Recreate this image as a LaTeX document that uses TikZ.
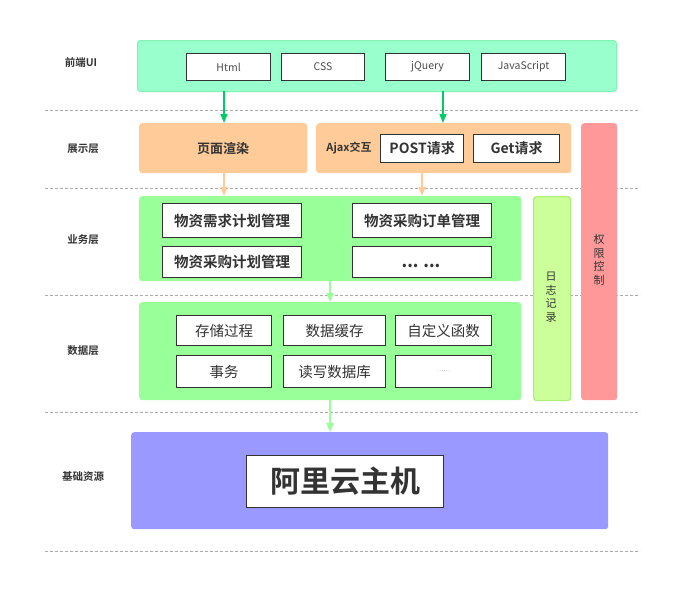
\documentclass[tikz,border=0pt]{standalone}
\usepackage{fontspec}
\setmainfont{Noto Sans CJK SC}
\newfontfamily\cjkb{Noto Sans CJK SC Bold}
\usetikzlibrary{arrows.meta}
\definecolor{tx}{HTML}{333333}
\definecolor{fgreen}{HTML}{99FFCC}
\definecolor{fgreenb}{HTML}{80F2B3}
\definecolor{orng}{HTML}{FFCC99}
\definecolor{bgreen}{HTML}{99FF99}
\definecolor{purp}{HTML}{9999FF}
\definecolor{pink}{HTML}{FF9999}
\definecolor{logc}{HTML}{CCFF99}
\definecolor{logb}{HTML}{AAEE77}
\definecolor{arrg}{HTML}{00CC66}
\definecolor{dash}{HTML}{AAAAAA}
\tikzset{
  x=1pt,y=-1pt,
  layer/.style={rounded corners=3pt,draw=none,inner sep=0pt,anchor=north west},
  wbox/.style={draw=tx,line width=1.2pt,fill=white,anchor=north west,inner sep=0pt,text=tx},
  lbl/.style={text=tx,font=\cjkb\fontsize{10.5}{11}\selectfont},
  sep/.style={draw=dash,dashed,line width=0.8pt,dash pattern=on 3pt off 2pt},
  arr/.style={line width=1.6pt,-{Triangle[width=7pt,length=9pt]}},
}
\newcommand{\rbox}[6]{\node[layer,fill=#5,minimum width=#3pt-#1pt,minimum height=#4pt-#2pt] (#6) at (#1,#2) {};}
\begin{document}
\begin{tikzpicture}
\useasboundingbox (0,0) rectangle (694,614);
% separators
\foreach \yy/\nm in {110/s1,188/s2,295/s3,412/s4,551/s5}{
  \coordinate (\nm a) at (45,\yy); \coordinate (\nm b) at (640,\yy);
  \draw[sep] (\nm a) -- (\nm b);
}
% left labels
\node[lbl] (l1) at (81,62) {前端UI};
\node[lbl] (l2) at (83,149) {展示层};
\node[lbl] (l3) at (83,240) {业务层};
\node[lbl] (l4) at (83,351) {数据层};
\node[lbl] (l5) at (83,477) {基础资源};
% front UI
\node[layer,fill=fgreen,draw=fgreenb,line width=1pt,minimum width=479pt,minimum height=51pt] (front) at (137,40) {};
\foreach \xa/\xb/\t/\n in {186/270/Html/html,281/364/CSS/css,385/469/jQuery/jq,481/565/JavaScript/js}{
  \node[wbox,minimum width=\xb pt-\xa pt,minimum height=27pt,font=\fontsize{10.5}{11}\selectfont,text=black!70] (\n) at (\xa,53) {\t};
}
% presentation layer
\rbox{139}{123}{307}{173}{orng}{render}
\node[text=tx,font=\cjkb\fontsize{13}{14}\selectfont] (rendert) at (render.center) {页面渲染};
\rbox{316}{123}{571}{173}{orng}{ajax}
\node[text=tx,font=\cjkb\fontsize{11}{12}\selectfont] (ajaxt) at (349,148) {Ajax交互};
\node[wbox,minimum width=83pt,minimum height=28pt,font=\cjkb\fontsize{14}{15}\selectfont] (post) at (380,134) {POST请求};
\node[wbox,minimum width=86pt,minimum height=28pt,font=\cjkb\fontsize{14}{15}\selectfont] (get) at (473,134) {Get请求};
% permission & log
\rbox{581}{123}{617}{400}{pink}{perm}
\node[text=tx,font=\fontsize{11}{13.5}\selectfont,align=center] (permt) at (599,260) {权\\限\\控\\制};
\node[layer,fill=logc,draw=logb,line width=1.2pt,minimum width=37pt,minimum height=204pt] (log) at (533,196) {};
\node[text=tx,font=\fontsize{11}{13.5}\selectfont,align=center] (logt) at (551,297) {日\\志\\记\\录};
% business layer
\rbox{139}{196}{521}{281}{bgreen}{biz}
\tikzset{bizb/.style={wbox,minimum width=139pt,font=\cjkb\fontsize{14.5}{15}\selectfont}}
\node[bizb,minimum height=34pt] (b1) at (162,203) {物资需求计划管理};
\node[bizb,minimum height=31pt] (b2) at (162,246) {物资采购计划管理};
\node[bizb,minimum height=34pt] (b3) at (352,203) {物资采购订单管理};
\node[bizb,minimum height=31pt] (b4) at (352,246) {};
\node[text=tx,font=\bfseries\fontsize{16}{16}\selectfont] (b4t) at (421,266) {... ...};
% data layer
\rbox{139}{302}{521}{400}{bgreen}{data}
\tikzset{datb/.style={wbox,font=\fontsize{14.5}{15}\selectfont}}
\node[datb,minimum width=95pt,minimum height=30pt] (d1) at (176,315) {存储过程};
\node[datb,minimum width=102pt,minimum height=30pt] (d2) at (283,315) {数据缓存};
\node[datb,minimum width=96pt,minimum height=30pt] (d3) at (395,315) {自定义函数};
\node[datb,minimum width=95pt,minimum height=32pt] (d4) at (176,355) {事务};
\node[datb,minimum width=102pt,minimum height=32pt] (d5) at (283,355) {读写数据库};
\node[datb,minimum width=96pt,minimum height=32pt,font=\fontsize{6}{7}\selectfont,text=gray] (d6) at (395,355) {…… };
% base
\rbox{131}{432}{608}{529}{purp}{base}
\node[wbox,minimum width=197pt,minimum height=52pt,font=\cjkb\fontsize{30}{31}\selectfont] (ali) at (246,455) {阿里云主机};
% arrows
\coordinate (f1) at (224,91); \coordinate (f2) at (443,91);
\coordinate (p1) at (224,123); \coordinate (p2) at (443,123);
\draw[arr,arrg] (f1) -- (p1);
\draw[arr,arrg] (f2) -- (p2);
\coordinate (o1) at (224,173); \coordinate (o2) at (422,173);
\coordinate (q1) at (224,196); \coordinate (q2) at (422,196);
\draw[arr,orng] (o1) -- (q1);
\draw[arr,orng] (o2) -- (q2);
\coordinate (g1) at (330,281); \coordinate (g2) at (330,302);
\draw[arr,bgreen] (g1) -- (g2);
\coordinate (h1) at (330,400); \coordinate (h2) at (330,432);
\draw[arr,bgreen] (h1) -- (h2);
\end{tikzpicture}
\end{document}
